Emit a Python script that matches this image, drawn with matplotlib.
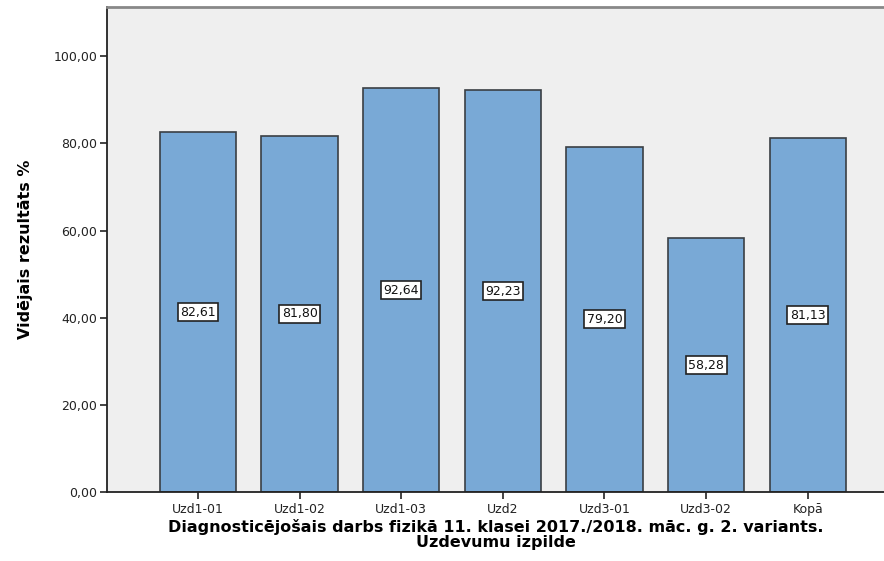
import matplotlib.pyplot as plt
from matplotlib.ticker import FuncFormatter

categories = ['Uzd1-01', 'Uzd1-02', 'Uzd1-03', 'Uzd2', 'Uzd3-01', 'Uzd3-02', 'Kopā']
values = [82.61, 81.80, 92.64, 92.23, 79.20, 58.28, 81.13]
yticks = [0, 20, 40, 60, 80, 100]

plt.rcParams['font.family'] = ['DejaVu Sans']

fig = plt.figure(figsize=(8.84, 5.61), dpi=100)
ax = fig.add_axes([0.121, 0.123, 0.879, 0.8645])
ax.set_facecolor('#efefef')

xs = list(range(len(categories)))
ax.bar(xs, values, width=0.75, color='#79a9d6', edgecolor='#3a3f44', linewidth=1.2, zorder=2)

# etiķetes bāra vidū
for x, v in zip(xs, values):
    ax.text(x, v / 2, f'{v:.2f}'.replace('.', ','), ha='center', va='center', fontsize=9,
            color='#111111', zorder=3,
            bbox=dict(boxstyle='square,pad=0.2', facecolor='white', edgecolor='#222222', linewidth=1.2))

ax.set_xlim(-0.895, 6.75)
ax.set_ylim(0, 111.3)
ax.set_xticks(xs)
ax.set_xticklabels(categories, fontsize=9, color='#222222')
ax.set_yticks(yticks)
ax.yaxis.set_major_formatter(FuncFormatter(lambda v, p: f'{v:.2f}'.replace('.', ',')))
ax.tick_params(axis='y', labelsize=9, labelcolor='#222222', length=5, width=1.2, color='#222222', pad=2)
ax.tick_params(axis='x', length=5, width=1.2, color='#222222', pad=3)

for s in ['left', 'bottom']:
    ax.spines[s].set_color('#222222')
    ax.spines[s].set_linewidth(1.3)
ax.spines['top'].set_color('#888888')
ax.spines['top'].set_linewidth(2)
ax.spines['right'].set_visible(False)

ax.set_ylabel('Vidējais rezultāts %', fontsize=11.5, fontweight='bold', labelpad=15)
ax.set_xlabel('Diagnosticējošais darbs fizikā 11. klasei 2017./2018. māc. g. 2. variants.\nUzdevumu izpilde',
              fontsize=11.5, fontweight='bold', linespacing=1.0, labelpad=2)

fig.savefig('out.png', dpi=100, facecolor='white')
